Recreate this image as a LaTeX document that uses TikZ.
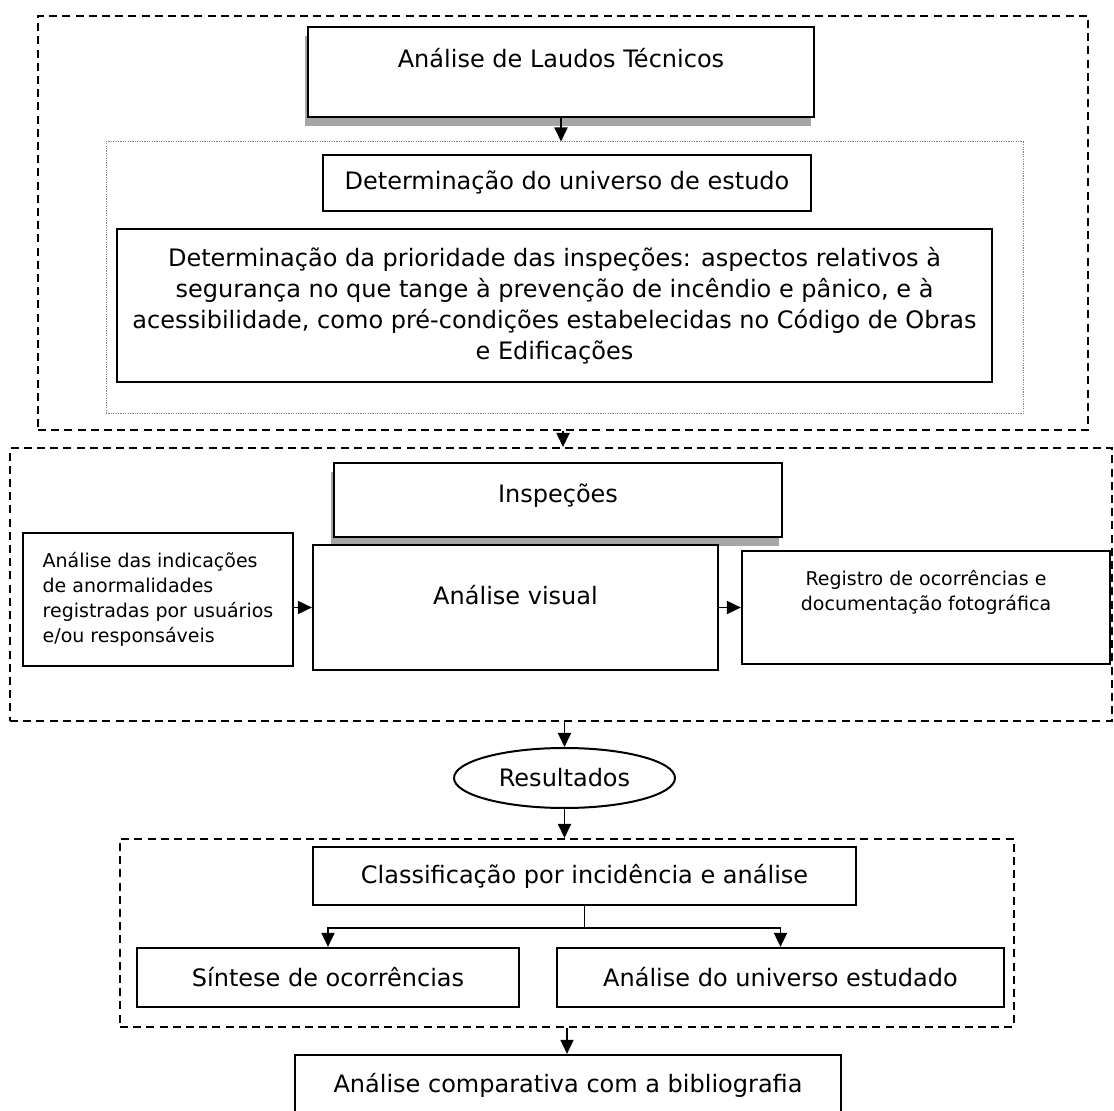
\documentclass[tikz,border=0pt]{standalone}
\usepackage{fontspec}
\setmainfont{DejaVu Sans}
\usetikzlibrary{arrows.meta,shapes.geometric,shadows,fit}
\newcommand{\mainsize}{\fontsize{12}{15.5}\selectfont}
\newcommand{\smallsize}{\fontsize{9.5}{12.5}\selectfont}
\tikzset{
  flowbox/.style={draw,line width=1.1pt,fill=white,inner sep=0pt,align=center,font=\mainsize},
  withshadow/.style={drop shadow={shadow xshift=-1.5pt,shadow yshift=-4.5pt,fill=black!35,opacity=1}},
  stagebox/.style={draw,line width=1pt,dash pattern=on 4pt off 2.6pt,inner sep=0pt},
  dotbox/.style={draw=black!50,line width=0.5pt,dash pattern=on 0.6pt off 0.6pt,inner sep=0pt},
  arr/.style={-{Triangle[length=7pt,width=6.5pt]},line width=0.9pt},
}
\begin{document}
\begin{tikzpicture}[x=0.5pt,y=-0.5pt]
\useasboundingbox (0,0) rectangle (1114,1111);
\clip (0,0) rectangle (1114,1111);
% etapa 1: laudos
\node[stagebox,fit={(38,16) (1088,430)}] (stage1) {};
\node[dotbox,fit={(106,142) (1023,414)}] (scope) {};
\node[flowbox,withshadow,minimum width=253pt,minimum height=45pt,text depth=14pt] (laudos) at (561,72) {Análise de Laudos Técnicos};
\node[flowbox,minimum width=244pt,minimum height=28pt] (universe) at (567,183) {Determinação do universo de estudo};
\node[flowbox,minimum width=437.5pt,minimum height=76.5pt] (priority) at (554.5,305.5)
  {Determinação da prioridade das inspeções: aspectos relativos à\\
   segurança no que tange à prevenção de incêndio e pânico, e à\\
   acessibilidade, como pré-condições estabelecidas no Código de Obras\\
   e Edificações};
% etapa 2: inspecoes
\node[stagebox,fit={(10,448) (1112,721)}] (stage2) {};
\node[flowbox,withshadow,minimum width=224pt,minimum height=37pt,text depth=7pt] (insp) at (558,500) {Inspeções};
\node[flowbox,font=\smallsize,align=left,minimum width=135pt,minimum height=66.5pt] (reports) at (158,599.5)
  {Análise das indicações\\de anormalidades\\registradas por usuários\\e/ou responsáveis};
\node[flowbox,minimum width=202.5pt,minimum height=62.5pt,text depth=13pt] (visual) at (515.5,607.5) {Análise visual};
\node[flowbox,font=\smallsize,minimum width=184pt,minimum height=56.5pt,text depth=17pt] (record) at (926,607.5)
  {Registro de ocorrências e\\documentação fotográfica};
\node[draw,ellipse,line width=1pt,minimum width=110.5pt,minimum height=30pt,inner sep=0pt,font=\mainsize] (result) at (564.5,778) {Resultados};
% etapa 3: resultados
\node[stagebox,fit={(120,839) (1014,1027)}] (stage3) {};
\node[flowbox,minimum width=271.5pt,minimum height=29pt] (classif) at (584.5,876) {Classificação por incidência e análise};
\node[flowbox,minimum width=191pt,minimum height=29.5pt] (summary) at (328,977.5) {Síntese de ocorrências};
\node[flowbox,minimum width=223.5pt,minimum height=29.5pt] (analysis) at (780.5,977.5) {Análise do universo estudado};
\node[flowbox,minimum width=273pt,minimum height=30pt] (compare) at (568,1085) {Análise comparativa com a bibliografia};
% ligacoes
\draw[arr] (laudos.south) -- (laudos.south |- scope.north);
\draw[arr] (stage1.south) -- (stage1.south |- stage2.north);
\draw[arr] (reports.east |- visual.west) -- (visual.west);
\draw[arr] (visual.east) -- (record.west);
\draw[arr] (result.north |- stage2.south) -- (result.north);
\draw[arr] (result.south) -- (result.south |- stage3.north);
\draw[arr] (classif.south) -- ++(0,22) -| (summary.north);
\draw[arr] (classif.south) -- ++(0,22) -| (analysis.north);
\draw[arr] (stage3.south) -- (stage3.south |- compare.north);
\end{tikzpicture}
\end{document}
